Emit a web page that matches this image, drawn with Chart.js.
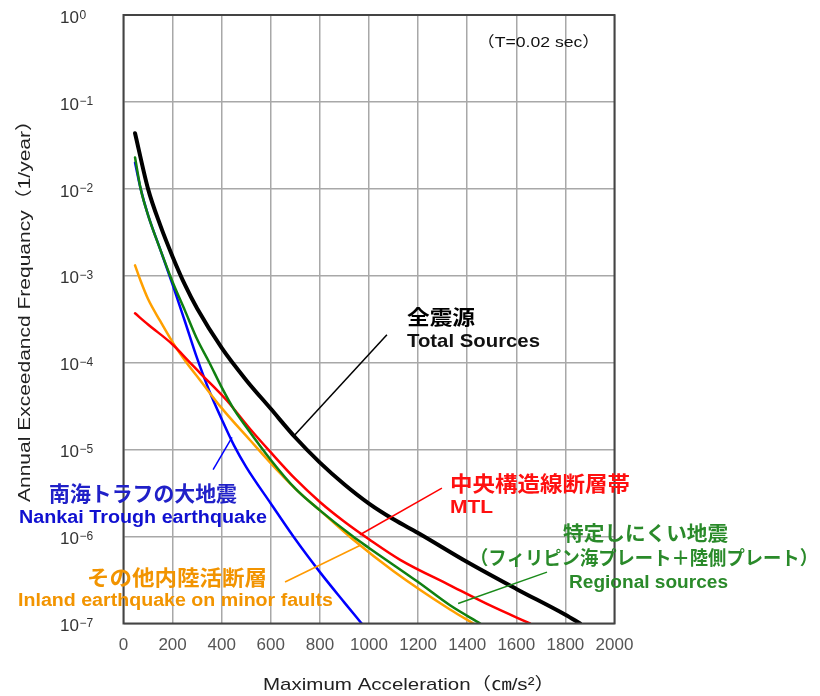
<!DOCTYPE html>
<html>
<head>
<meta charset="utf-8">
<script src="https://cdn.jsdelivr.net/npm/chart.js@4.4.1/dist/chart.umd.min.js"></script>
<style>
  body { margin: 0; background: #fff; }
  #wrap { width: 820px; height: 696px; }
</style>
</head>
<body>
<div id="wrap"><canvas id="chart" width="820" height="696"></canvas></div>
<script>
// Hazard curves (T=0.02 sec): max acceleration in cm/s2 vs annual exceedance frequency
const totalX = [47, 100, 150, 200, 250, 300, 400, 500, 600, 700, 800, 900, 1000, 1100, 1200, 1400, 1600, 1800, 1860];
const totalY = [4.37e-2, 1.0e-2, 3.8e-3, 1.66e-3, 7.9e-4, 4.2e-4, 1.48e-4, 6.3e-5, 2.95e-5, 1.38e-5, 7.1e-6, 3.98e-6, 2.4e-6, 1.58e-6, 1.1e-6, 5.1e-7, 2.5e-7, 1.26e-7, 1.0e-7];

const nankaiX = [47, 70, 100, 150, 200, 250, 300, 350, 400, 450, 500, 600, 700, 800, 900, 970];
const nankaiY = [2.0e-2, 1.0e-2, 5.0e-3, 2.0e-3, 7.9e-4, 3.0e-4, 1.12e-4, 4.7e-5, 2.24e-5, 1.12e-5, 6.3e-6, 2.4e-6, 9.3e-7, 3.9e-7, 1.74e-7, 1.0e-7];

const regionalX = [47, 70, 100, 150, 200, 250, 300, 350, 400, 450, 500, 600, 700, 800, 935, 1000, 1200, 1330, 1453];
const regionalY = [2.29e-2, 1.0e-2, 5.0e-3, 2.0e-3, 8.5e-4, 4.0e-4, 1.86e-4, 1.0e-4, 5.2e-5, 2.9e-5, 1.82e-5, 7.6e-6, 3.55e-6, 2.0e-6, 1.0e-6, 7.4e-7, 3.0e-7, 1.62e-7, 1.0e-7];

const inlandX = [47, 70, 100, 150, 210, 257, 312, 400, 515, 624, 719, 800, 930, 1100, 1330, 1425];
const inlandY = [1.32e-3, 8.7e-4, 5.4e-4, 3.0e-4, 1.55e-4, 1.0e-4, 6.3e-5, 3.0e-5, 1.29e-5, 5.9e-6, 3.16e-6, 2.0e-6, 9.5e-7, 4.0e-7, 1.45e-7, 1.0e-7];

const mtlX = [47, 100, 200, 271, 312, 420, 515, 600, 700, 800, 900, 1000, 1127, 1330, 1500, 1656];
const mtlY = [3.7e-4, 2.75e-4, 1.62e-4, 1.0e-4, 7.6e-5, 3.7e-5, 1.74e-5, 9.3e-6, 4.6e-6, 2.5e-6, 1.48e-6, 9.3e-7, 5.4e-7, 2.75e-7, 1.58e-7, 1.0e-7];

const xTicks = [0, 200, 400, 600, 800, 1000, 1200, 1400, 1600, 1800, 2000];
const yExponents = [0, -1, -2, -3, -4, -5, -6, -7];
const yTickLabels = ['0', '−1', '−2', '−3', '−4', '−5', '−6', '−7'];

const toPoints = (xs, ys) => xs.map((x, i) => ({ x: x, y: ys[i] }));

// draw text squeezed/stretched to fit a given width
function fitText(ctx, text, left, right, cy, font, color) {
  ctx.save();
  ctx.font = font;
  ctx.fillStyle = color;
  ctx.textBaseline = 'middle';
  ctx.textAlign = 'left';
  const w = ctx.measureText(text).width;
  ctx.translate(left, cy);
  ctx.scale((right - left) / w, 1);
  ctx.fillText(text, 0, 0);
  ctx.restore();
}

// leader lines, given in data coordinates (acceleration, frequency)
const leaders = [
  { from: [690, 1.4e-5], to: [1073, 2.1e-4], color: '#000000' },
  { from: [365, 5.9e-6], to: [442, 1.38e-5], color: '#0000ff' },
  { from: [658, 3.0e-7], to: [963, 7.9e-7], color: '#ff9900' },
  { from: [963, 1.05e-6], to: [1297, 3.6e-6], color: '#ff0000' },
  { from: [1363, 1.7e-7], to: [1725, 3.9e-7], color: '#1a8a1a' }
];

const CJK = '"Noto Sans CJK JP"';
const LAT = '"Liberation Sans", Arial';
const labels = [
  { t: '全震源', l: 407, r: 475, y: 317, f: 'bold 20px ' + CJK, c: '#000000' },
  { t: 'Total Sources', l: 407, r: 540, y: 342, f: 'bold 19px ' + LAT, c: '#111111' },
  { t: '南海トラフの大地震', l: 49, r: 237, y: 493, f: 'bold 21px ' + CJK, c: '#2020c8' },
  { t: 'Nankai Trough earthquake', l: 19, r: 267, y: 518, f: 'bold 18px ' + LAT, c: '#1010d0' },
  { t: 'その他内陸活断層', l: 87, r: 267, y: 577, f: 'bold 21px ' + CJK, c: '#f29400' },
  { t: 'Inland earthquake on minor faults', l: 18, r: 333, y: 601, f: 'bold 18px ' + LAT, c: '#f29400' },
  { t: '中央構造線断層帯', l: 450, r: 630, y: 483, f: 'bold 21px ' + CJK, c: '#ff1010' },
  { t: 'MTL', l: 450, r: 493, y: 508, f: 'bold 18px ' + LAT, c: '#ff1010' },
  { t: '特定しにくい地震', l: 563, r: 728, y: 533, f: 'bold 20px ' + CJK, c: '#2a8a2a' },
  { t: '（フィリピン海プレート＋陸側プレート）', l: 470, r: 818, y: 558, f: 'bold 19px ' + CJK, c: '#2a8a2a' },
  { t: 'Regional sources', l: 569, r: 728, y: 583, f: 'bold 18px ' + LAT, c: '#2a8a2a' },
  { t: '（T=0.02 sec）', l: 477, r: 600, y: 43, f: '15px ' + LAT + ', ' + CJK, c: '#111111' }
];

const decorPlugin = {
  id: 'decor',
  afterDraw(chart) {
    const ctx = chart.ctx;
    const area = chart.chartArea;
    const xs = chart.scales.x;
    const ys = chart.scales.y;

    // plot frame
    ctx.save();
    ctx.strokeStyle = '#444';
    ctx.lineWidth = 2;
    ctx.strokeRect(area.left, area.top, area.right - area.left, area.bottom - area.top);
    ctx.restore();

    // y tick labels 10^n
    ctx.save();
    ctx.fillStyle = '#333';
    yExponents.forEach((e, i) => {
      const py = ys.getPixelForValue(Number('1e' + e));
      ctx.font = '17px ' + LAT;
      ctx.textBaseline = 'middle';
      ctx.fillText('10', 60, py + 3);
      const w = ctx.measureText('10').width;
      ctx.font = '12px ' + LAT;
      ctx.textBaseline = 'alphabetic';
      ctx.fillText(yTickLabels[i], 60 + w + 0.5, py + 3.5);
    });
    ctx.restore();

    // axis titles
    fitText(ctx, 'Maximum Acceleration（㎝/s²）', 263, 555, 685, '17px ' + LAT + ', ' + CJK, '#222');
    ctx.save();
    ctx.translate(25, 306);
    ctx.rotate(-Math.PI / 2);
    fitText(ctx, 'Annual Exceedancd Frequancy（1/year）', -196, 196, 0, '17px ' + LAT + ', ' + CJK, '#222');
    ctx.restore();

    // leader lines
    leaders.forEach(ld => {
      ctx.save();
      ctx.strokeStyle = ld.color;
      ctx.lineWidth = 1.5;
      ctx.beginPath();
      ctx.moveTo(xs.getPixelForValue(ld.from[0]), ys.getPixelForValue(ld.from[1]));
      ctx.lineTo(xs.getPixelForValue(ld.to[0]), ys.getPixelForValue(ld.to[1]));
      ctx.stroke();
      ctx.restore();
    });

    // annotation texts
    labels.forEach(lb => fitText(ctx, lb.t, lb.l, lb.r, lb.y, lb.f, lb.c));
  }
};

const gridStyle = { color: '#a8a8a8', lineWidth: 1.5, drawTicks: false };

new Chart(document.getElementById('chart'), {
  type: 'line',
  data: {
    datasets: [
      { label: '全震源', data: toPoints(totalX, totalY), borderColor: '#000000', borderWidth: 4 },
      { label: '特定しにくい地震', data: toPoints(regionalX, regionalY), borderColor: '#108010', borderWidth: 2.5 },
      { label: '中央構造線断層帯', data: toPoints(mtlX, mtlY), borderColor: '#ff0000', borderWidth: 2.5 },
      { label: 'その他内陸活断層', data: toPoints(inlandX, inlandY), borderColor: '#ffa000', borderWidth: 2.5 },
      { label: '南海トラフの大地震', data: toPoints(nankaiX, nankaiY), borderColor: '#0000ff', borderWidth: 2.5 }
    ]
  },
  options: {
    responsive: false,
    animation: false,
    layout: { padding: { left: 0, right: 205.5, top: 15, bottom: 0 } },
    elements: {
      point: { radius: 0 },
      line: { cubicInterpolationMode: 'monotone', borderCapStyle: 'round', fill: false }
    },
    plugins: { legend: { display: false }, tooltip: { enabled: false } },
    scales: {
      x: {
        type: 'linear',
        min: 0,
        max: 2000,
        afterBuildTicks: s => { s.ticks = xTicks.map(v => ({ value: v })); },
        ticks: {
          padding: 12,
          color: '#555',
          font: { family: 'Liberation Sans', size: 17 },
          callback: v => String(v)
        },
        grid: gridStyle,
        border: { display: false },
        afterFit: s => { s.height = 72.5; }
      },
      y: {
        type: 'logarithmic',
        min: 1e-7,
        max: 1,
        afterBuildTicks: s => { s.ticks = yExponents.map(e => ({ value: Number('1e' + e), major: true })); },
        ticks: { display: false },
        grid: gridStyle,
        border: { display: false },
        afterFit: s => { s.width = 123.5; }
      }
    }
  },
  plugins: [decorPlugin]
});
</script>
</body>
</html>
